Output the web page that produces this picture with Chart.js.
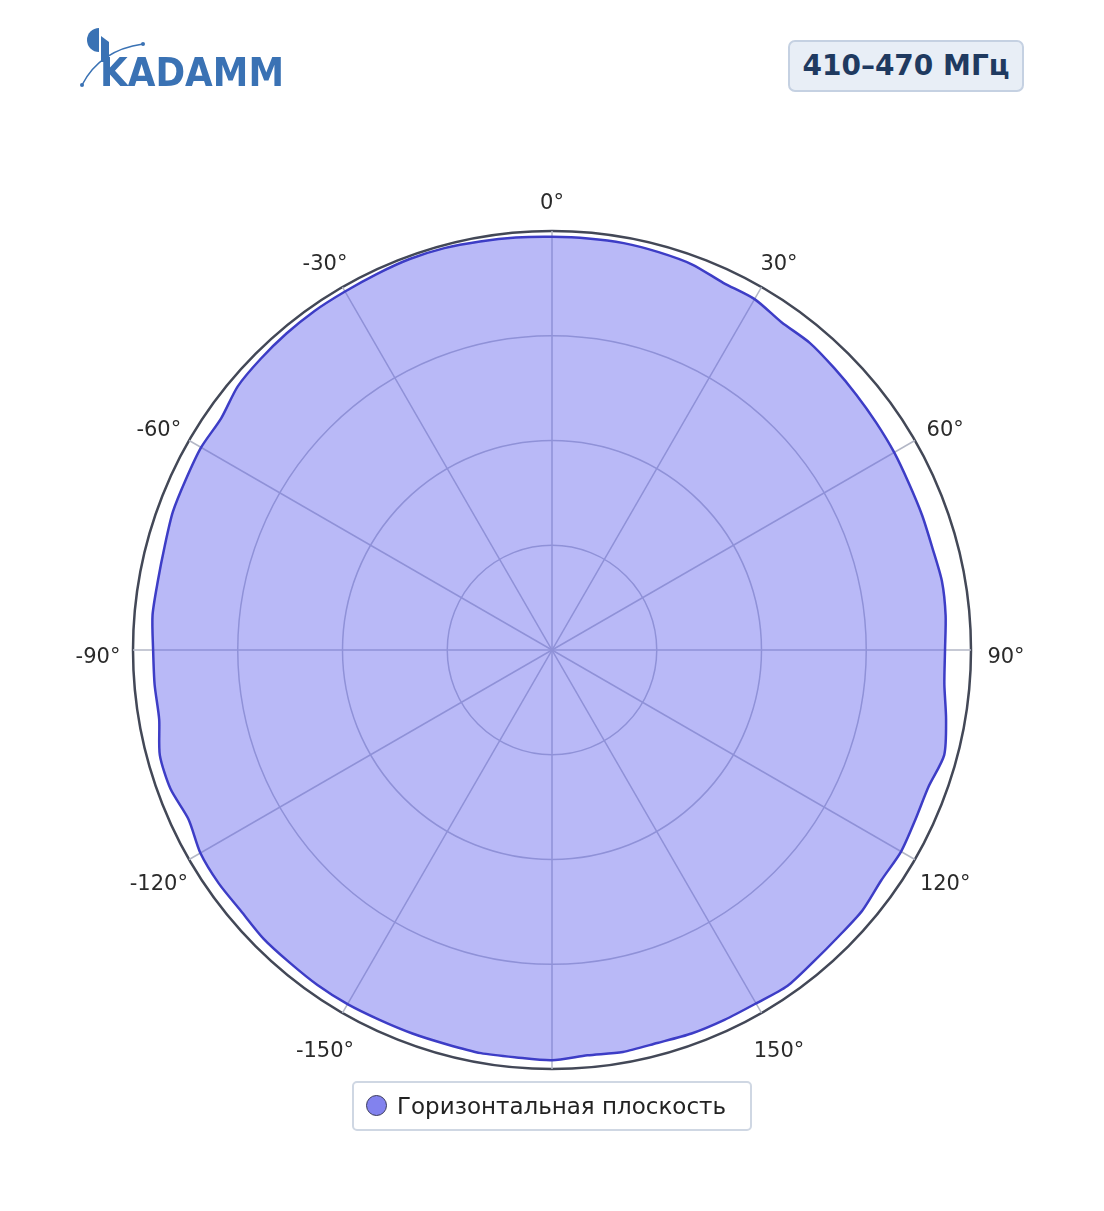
<!DOCTYPE html>
<html>
<head>
<meta charset="utf-8">
<script src="https://cdn.jsdelivr.net/npm/chart.js@4/dist/chart.umd.min.js"></script>
<style>
  html, body { margin: 0; padding: 0; background: #fff; }
  body { width: 1104px; height: 1211px; position: relative; font-family: "DejaVu Sans", sans-serif; overflow: hidden; }
  #wrap { position: absolute; left: 0; top: 0; width: 1104px; height: 1211px; }
  #logo { position: absolute; left: 76px; top: 22px; }
  #freq { position: absolute; left: 788px; top: 40px; width: 232px; height: 48px; box-sizing: content-box;
          border: 2px solid #c5d1e2; border-radius: 7px; background: #e8eef6;
          color: #1f3a60; font-weight: bold; font-size: 28px; line-height: 48px; text-align: center; }
  #legend { position: absolute; left: 352px; top: 1081px; width: 396px; height: 46px;
            border: 2px solid #cfd7e3; border-radius: 5px; background: #fff; }
  #legend .dot { position: absolute; left: 12px; top: 12px; width: 19px; height: 19px; border-radius: 50%;
                 background: #8282ee; border: 1px solid #3a3a5a; }
  #legend .txt { position: absolute; left: 43px; top: 0; line-height: 46px; font-size: 23px; color: #222; }
</style>
</head>
<body>
<div id="wrap"><canvas id="polar" width="1104" height="1211"></canvas></div>

<svg id="logo" width="220" height="72" viewBox="76 22 220 72">
  <path d="M99 28 A12 12 0 0 0 99 52 Z" fill="#3a72b4"/>
  <path d="M82 85 Q100 50 143 44" fill="none" stroke="#3a72b4" stroke-width="1.5"/>
  <circle cx="82" cy="85" r="2" fill="#3a72b4"/>
  <circle cx="143" cy="44" r="2" fill="#3a72b4"/>
  <path d="M101 36 L109 42 L109 62 L101 62 Z" fill="#3a72b4"/>
  <text x="100" y="86" font-family="DejaVu Sans" font-weight="bold" font-size="39" fill="#3a72b4"
        textLength="184" lengthAdjust="spacingAndGlyphs">KADAMM</text>
</svg>

<div id="freq">410–470 МГц</div>

<div id="legend"><span class="dot"></span><span class="txt">Горизонтальная плоскость</span></div>

<script>
// angles every 5 degrees, clockwise from the top
const angles = [];
for (let a = 0; a < 360; a += 5) angles.push(a);

// horizontal pattern, normalised gain
const gain = [
  0.986, 0.986, 0.986, 0.983, 0.979, 0.967, 0.967, 0.955, 0.957, 0.952, 0.948, 0.945,
  0.943, 0.940, 0.940, 0.940, 0.945, 0.943, 0.938, 0.940, 0.955, 0.969, 0.956, 0.957,
  0.962, 0.959, 0.967, 0.967, 0.971, 0.979, 0.974, 0.974, 0.974, 0.971, 0.974, 0.971,
  0.979, 0.976, 0.977, 0.974, 0.974, 0.974, 0.976, 0.976, 0.974, 0.974, 0.969, 0.971,
  0.969, 0.957, 0.969, 0.969, 0.952, 0.952, 0.952, 0.957, 0.955, 0.957, 0.963, 0.964,
  0.967, 0.964, 0.979, 0.983, 0.986, 0.988, 0.988, 0.990, 0.993, 0.993, 0.990, 0.988
];

// angular tick labels every 30 degrees (180 sits under the legend)
const tickAngles = [0, 30, 60, 90, 120, 150, 210, 240, 270, 300, 330];
const tickLabels = ['0°', '30°', '60°', '90°', '120°', '150°', '-150°', '-120°', '-90°', '-60°', '-30°'];

const gridGrey = '#b3b7c6';

const angleLabelsPlugin = {
  id: 'angleLabels',
  afterDraw(chart) {
    const scale = chart.scales.r;
    const c = chart.ctx;
    c.save();
    c.font = '21px "DejaVu Sans"';
    c.fillStyle = '#2a2a2a';
    c.textAlign = 'center';
    c.textBaseline = 'middle';
    tickAngles.forEach((a, k) => {
      const idx = angles.indexOf(a);
      const p = scale.getPointPosition(idx, scale.drawingArea + 35);
      c.fillText(tickLabels[k], p.x, p.y + 8);
    });
    c.restore();
  }
};

new Chart(document.getElementById('polar'), {
  type: 'radar',
  data: {
    labels: angles.map(a => a + '°'),
    datasets: [{
      label: 'Горизонтальная плоскость',
      data: gain,
      borderColor: '#3d3dc6',
      borderWidth: 2.5,
      backgroundColor: 'rgba(99, 99, 238, 0.45)',
      fill: true,
      pointRadius: 0,
      tension: 0.25
    }]
  },
  options: {
    responsive: false,
    animation: false,
    layout: { padding: { left: 133, right: 133, top: 231, bottom: 142 } },
    plugins: {
      legend: { display: false },
      tooltip: { enabled: false }
    },
    scales: {
      r: {
        min: 0,
        max: 1,
        ticks: { stepSize: 0.25, display: false },
        pointLabels: { display: false },
        grid: {
          circular: true,
          color: ctx => (ctx.tick && ctx.tick.value === 1) ? '#434857' : gridGrey,
          lineWidth: ctx => (ctx.tick && ctx.tick.value === 1) ? 2.5 : 1.5
        },
        angleLines: {
          color: ctx => ctx.index % 6 === 0 ? gridGrey : 'transparent',
          lineWidth: ctx => ctx.index % 6 === 0 ? 1.5 : 0
        }
      }
    }
  },
  plugins: [angleLabelsPlugin]
});
</script>
</body>
</html>
